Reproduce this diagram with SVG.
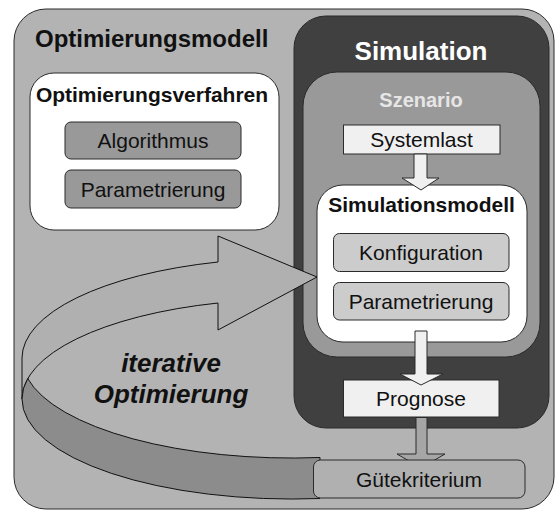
<svg xmlns="http://www.w3.org/2000/svg" width="556" height="510" viewBox="0 0 556 510">
  <style>
    text { font-family: "Liberation Sans", Arial, sans-serif; }
    .title { font-weight: bold; }
    .lbl { font-size: 21px; text-anchor: middle; fill: #111; }
    .edge { stroke: #2a2a2a; stroke-width: 1; }
    .ribbon { stroke: #111; stroke-width: 1; stroke-linejoin: miter; }
  </style>

  <!-- outer frame -->
  <g id="optimierungsmodell">
    <rect x="14" y="9" width="540" height="500" rx="32" ry="32" fill="#b3b3b3" class="edge"/>
    <text x="35" y="47" class="title" font-size="24" fill="#111">Optimierungsmodell</text>
  </g>

  <!-- optimisation method -->
  <g id="optimierungsverfahren">
    <rect x="30" y="73" width="249" height="157" rx="24" ry="24" fill="#ffffff" class="edge"/>
    <text x="152" y="102" class="title" font-size="21" text-anchor="middle" fill="#111">Optimierungsverfahren</text>
  </g>
  <g id="algorithmus">
    <rect x="65" y="122" width="176" height="37" rx="6" ry="6" fill="#999999" class="edge"/>
    <text x="153" y="148" class="lbl">Algorithmus</text>
  </g>
  <g id="parametrierung-opt">
    <rect x="65" y="170" width="176" height="38" rx="6" ry="6" fill="#999999" class="edge"/>
    <text x="153" y="196.5" class="lbl">Parametrierung</text>
  </g>

  <!-- simulation -->
  <g id="simulation">
    <rect x="294" y="16" width="255" height="412" rx="32" ry="32" fill="#404040" class="edge"/>
    <text x="421" y="60" class="title" font-size="26" text-anchor="middle" fill="#ffffff">Simulation</text>
  </g>
  <g id="szenario">
    <rect x="303" y="72" width="237" height="285" rx="34" ry="34" fill="#999999" class="edge"/>
    <text x="421" y="107" class="title" font-size="20" text-anchor="middle" fill="#e6e6e6">Szenario</text>
  </g>
  <g id="systemlast">
    <rect x="343.5" y="125" width="156.5" height="29" fill="#f0f0f0" class="edge"/>
    <text x="421.5" y="147" class="lbl">Systemlast</text>
  </g>
  <g id="simulationsmodell">
    <rect x="317" y="185" width="210" height="157" rx="26" ry="26" fill="#ffffff" class="edge"/>
    <text x="421.5" y="212" class="title" font-size="21" text-anchor="middle" fill="#111">Simulationsmodell</text>
  </g>
  <g id="konfiguration">
    <rect x="333.5" y="233.5" width="175.5" height="38" rx="6" ry="6" fill="#cccccc" class="edge"/>
    <text x="421" y="260" class="lbl">Konfiguration</text>
  </g>
  <g id="parametrierung-sim">
    <rect x="333.5" y="282.5" width="175.5" height="37.5" rx="6" ry="6" fill="#cccccc" class="edge"/>
    <text x="421" y="308.5" class="lbl">Parametrierung</text>
  </g>
  <g id="prognose">
    <rect x="343.5" y="380" width="155.5" height="37" fill="#f0f0f0" class="edge"/>
    <text x="421" y="406" class="lbl">Prognose</text>
  </g>

  <!-- connectors -->
  <g id="connectors">
    <!-- Systemlast to Simulationsmodell -->
    <polygon points="414,154 427,154 427,178 439,178 421,190 402,178 414,178" fill="#f0f0f0" class="edge"/>
    <!-- Simulationsmodell to Prognose -->
    <polygon points="415,331 427,331 427,374 443,374 421,385 400,374 415,374" fill="#f0f0f0" class="edge"/>
    <!-- Prognose to Guetekriterium -->
    <polygon points="416,417.5 427,417.5 427,454 445,454 421,468 397,454 416,454" fill="#a6a6a6" class="edge"/>

    <!-- iteration loop: back band with arrow head -->
    <path class="ribbon" fill="#b0b0b0"
          d="M218,262 A270,100 0 0 0 22,358 L22,399 A270,100 0 0 1 218,303
             L218,330 L317,277 L218,236 Z"/>
    <!-- iteration loop: front band -->
    <path class="ribbon" fill="#8c8c8c"
          d="M27.7,378.5 A270,100 0 0 0 320,457.5 L320,498.5 A270,100 0 0 1 22,399
             A270,100 0 0 1 27.7,378.5 Z"/>
    <text x="171" y="372" font-size="26" font-weight="bold" font-style="italic" text-anchor="middle" fill="#111">iterative</text>
    <text x="171" y="403" font-size="26" font-weight="bold" font-style="italic" text-anchor="middle" fill="#111">Optimierung</text>
  </g>

  <g id="guetekriterium">
    <rect x="313.5" y="460" width="211.5" height="38" rx="7" ry="7" fill="#b0b0b0" class="edge"/>
    <text x="419" y="486.5" class="lbl">Gütekriterium</text>
  </g>
</svg>
